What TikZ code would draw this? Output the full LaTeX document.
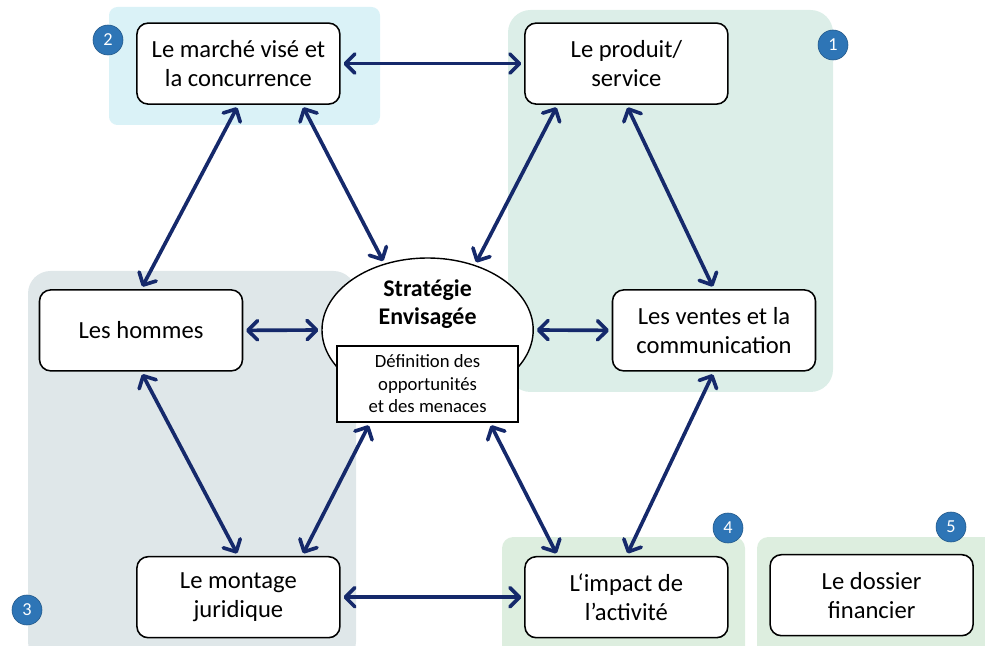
\documentclass[tikz,border=0pt]{standalone}
\usepackage{fontspec}
\setmainfont{Carlito}
\usepackage{xcolor}
\usetikzlibrary{arrows.meta, positioning, shapes.geometric, backgrounds}

\definecolor{fleche}{HTML}{15296B}
\definecolor{bleupastille}{HTML}{2E75B6}
\definecolor{zoneun}{HTML}{DCEEE8}
\definecolor{zonedeux}{HTML}{DAF2F7}
\definecolor{zonetrois}{HTML}{DFE7E9}
\definecolor{zonequatre}{HTML}{DDEEDF}

\begin{document}
\begin{tikzpicture}[
  bloc/.style={rectangle, draw, line width=1.1pt, rounded corners=8pt, fill=white, minimum width=5.075cm, minimum height=2.025cm, font=\fontsize{17.5}{20.6}\selectfont, align=center},
  pastille/.style={circle, fill=bleupastille, draw=bleupastille!75!black, minimum size=0.75cm, inner sep=0pt, text=white, font=\fontsize{13}{14}\selectfont},
  lien/.style={<->, line width=2.6pt, fleche},
  >={Straight Barb[length=2.4mm, width=4.8mm, round]}
]
  \clip (0,0) rectangle (24.625,-16.15);

  % zones de fond
  \fill[zonedeux, rounded corners=6pt]    (2.725,-0.175) rectangle (9.5,-3.125);
  \fill[zoneun, rounded corners=16pt]     (12.7,-0.25) rectangle (20.825,-9.8);
  \fill[zonetrois, rounded corners=16pt]  (0.7,-6.775) rectangle (8.9,-16.6);
  \fill[zonequatre, rounded corners=8pt]  (12.55,-13.425) rectangle (18.625,-16.6);
  \fill[zonequatre, rounded corners=8pt]  (18.925,-13.425) rectangle (24.9,-16.6);

  % blocs
  \node[bloc] (marche)  at (5.96,-1.59)   {Le marché visé et\\la concurrence};
  \node[bloc] (produit) at (15.66,-1.59)  {Le produit/\\service};
  \node[bloc] (hommes)  at (3.525,-8.26)  {Les hommes};
  \node[bloc] (ventes)  at (17.85,-8.26)  {Les ventes et la\\communication};
  \node[bloc] (montage) at (5.96,-14.93)  {Le montage\\juridique};
  \node[bloc] (impact)  at (15.66,-14.93) {L‘impact de\\l’activité};
  \node[bloc] (dossier) at (21.79,-14.88) {Le dossier\\financier};

  % strategie au centre
  \node[ellipse, draw, line width=1pt, fill=white, minimum width=5.28cm, minimum height=3.6cm] (strat) at (10.69,-8.25) {};
  \node[font=\bfseries\fontsize{17}{20}\selectfont, align=center] (strattxt) at ([yshift=0.65cm]strat.center) {Stratégie\\Envisagée};
  \node[rectangle, draw, line width=1.2pt, fill=white, minimum width=4.525cm, minimum height=1.9cm, font=\fontsize{13.3}{16}\selectfont, align=center] (menaces) at (10.69,-9.6) {Définition des\\opportunités\\et des menaces};

  % pastilles
  \node[pastille] (p1) at (20.825,-1.125) {1};
  \node[pastille] (p2) at (2.7,-1.0)      {2};
  \node[pastille] (p3) at (0.675,-15.25)  {3};
  \node[pastille] (p4) at (18.2,-13.2)    {4};
  \node[pastille] (p5) at (23.775,-13.175) {5};

  % liens
  \draw[lien, shorten <=2pt, shorten >=2pt] (marche) -- (produit);
  \draw[lien, shorten <=2pt, shorten >=2pt] (marche.south) -- (hommes.north);
  \draw[lien, shorten <=2pt, shorten >=2pt] (marche.-33.4) -- (strat.123);
  \draw[lien, shorten <=2pt, shorten >=2pt] (produit.-149) -- (strat.54);
  \draw[lien, shorten <=2pt, shorten >=2pt] (produit.south) -- (ventes.north);
  \draw[lien, shorten <=2pt, shorten >=2pt] (hommes.east) -- (strat.west);
  \draw[lien, shorten <=2pt, shorten >=2pt] (strat.east) -- (ventes.west);
  \draw[lien, shorten <=2pt, shorten >=2pt] (hommes.south) -- (montage.north);
  \draw[lien, shorten <=2pt, shorten >=2pt] (menaces.-146) -- (montage.33);
  \draw[lien, shorten <=2pt, shorten >=2pt] (menaces.-32.6) -- (impact.149);
  \draw[lien, shorten <=2pt, shorten >=2pt] (ventes.south) -- (impact.north);
  \draw[lien, shorten <=2pt, shorten >=2pt] (montage) -- (impact);
\end{tikzpicture}
\end{document}
